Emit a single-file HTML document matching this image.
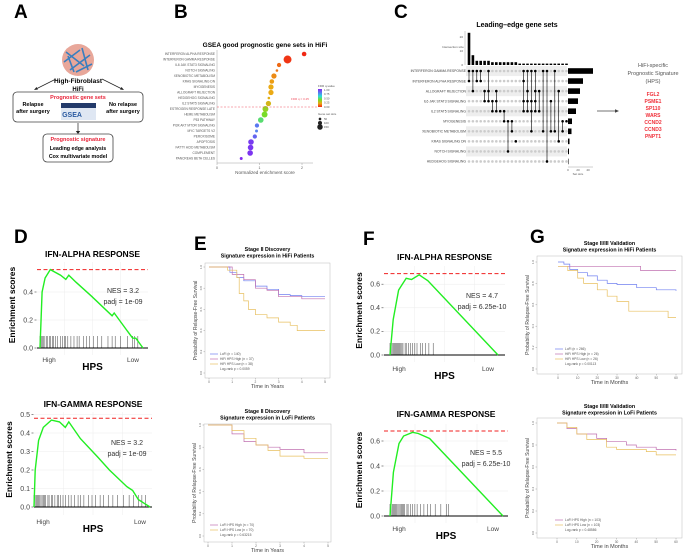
<!DOCTYPE html>
<html><head><meta charset="utf-8"><style>
html,body{margin:0;padding:0;background:#fff;}
svg{display:block;font-family:"Liberation Sans",sans-serif;}
</style></head><body>
<svg id="fig" width="689" height="554" viewBox="0 0 689 554" xmlns="http://www.w3.org/2000/svg">
<rect width="689" height="554" fill="#fff"/>
<g font-weight="bold" font-size="19" fill="#000">
<text x="14" y="18">A</text>
<text x="174" y="18">B</text>
<text x="394" y="18">C</text>
<text x="14" y="243">D</text>
<text x="194" y="250">E</text>
<text x="363" y="245">F</text>
<text x="530" y="243">G</text>
</g>
<g>
<circle cx="78" cy="60" r="16" fill="#e8a79a"/>
<g stroke="#3a7fbf" stroke-width="1.6">
<line x1="66" y1="52" x2="84" y2="66"/><line x1="70" y1="70" x2="90" y2="55"/><line x1="64" y1="62" x2="80" y2="50"/><line x1="76" y1="72" x2="92" y2="64"/><line x1="68" y1="56" x2="74" y2="72"/><line x1="82" y1="48" x2="88" y2="70"/>
</g>
<text x="78" y="83" font-size="6.5" font-weight="bold" text-anchor="middle">High-Fibroblast</text>
<text x="78" y="91" font-size="6" font-weight="bold" text-anchor="middle">HiFi</text>
<g stroke="#222" stroke-width="0.7" fill="none"><line x1="56" y1="79" x2="36" y2="89"/><line x1="102" y1="79" x2="122" y2="89"/><line x1="78" y1="123" x2="78" y2="132"/></g>
<g fill="#222"><path d="M34 90 l4 -0.5 l-1.5 -2.5z"/><path d="M124 90 l-4 -0.5 l1.5 -2.5z"/><path d="M75.8 131 h4.4 l-2.2 3z"/></g>
<rect x="13" y="92" width="130" height="30" rx="4" fill="none" stroke="#444" stroke-width="0.8"/>
<text x="78" y="99" font-size="5.5" font-weight="bold" fill="#e8253a" text-anchor="middle">Prognostic gene sets</text>
<text x="33" y="106" font-size="5.5" font-weight="bold" text-anchor="middle">Relapse</text>
<text x="33" y="113" font-size="5.5" font-weight="bold" text-anchor="middle">after surgery</text>
<text x="123" y="106" font-size="5.5" font-weight="bold" text-anchor="middle">No relapse</text>
<text x="123" y="113" font-size="5.5" font-weight="bold" text-anchor="middle">after surgery</text>
<rect x="61" y="103" width="35" height="5" fill="#223a6a"/>
<rect x="61" y="108" width="35" height="12" fill="#dfe7f3"/>
<text x="72" y="117" font-size="7" font-weight="bold" fill="#2a5aa0" text-anchor="middle">GSEA</text>
<rect x="43" y="134" width="70" height="28" rx="4" fill="none" stroke="#444" stroke-width="0.8"/>
<text x="78" y="141" font-size="5.5" font-weight="bold" fill="#e8253a" text-anchor="middle">Prognostic signature</text>
<text x="78" y="150" font-size="5.3" font-weight="bold" text-anchor="middle">Leading edge analysis</text>
<text x="78" y="158" font-size="5.3" font-weight="bold" text-anchor="middle">Cox multivariate model</text>
</g>
<g>
<line x1="597" y1="111" x2="615" y2="111" stroke="#444" stroke-width="0.8"/><path d="M619 111 l-4 -1.8 v3.6z" fill="#444"/>
<text x="653" y="67" font-size="5.5" fill="#555" text-anchor="middle">HiFi-specific</text>
<text x="653" y="75" font-size="5.5" fill="#555" text-anchor="middle">Prognostic Signature</text>
<text x="653" y="83" font-size="5.5" fill="#555" text-anchor="middle">(HPS)</text>
<g font-size="5" font-weight="bold" fill="#f0303a" text-anchor="middle">
<text x="653" y="96">FGL2</text><text x="653" y="103">PSME1</text><text x="653" y="110">SP110</text><text x="653" y="117">WARS</text><text x="653" y="124">CCND2</text><text x="653" y="131">CCND3</text><text x="653" y="138">PNPT1</text>
</g></g>
<g id="dyn"></g>
</svg>
<script>
const bTerms=["INTERFERON ALPHA RESPONSE","INTERFERON GAMMA RESPONSE","IL6 JAK STAT3 SIGNALING","NOTCH SIGNALING","XENOBIOTIC METABOLISM","KRAS SIGNALING DN","MYOGENESIS","ALLOGRAFT REJECTION","HEDGEHOG SIGNALING","IL2 STAT5 SIGNALING","ESTROGEN RESPONSE LATE","HEME METABOLISM","P53 PATHWAY","PI3K AKT MTOR SIGNALING","MYC TARGETS V2","PEROXISOME","APOPTOSIS","FATTY ACID METABOLISM","COMPLEMENT","PANCREAS BETA CELLES"];
const bNES=[2.05,1.66,1.46,1.41,1.34,1.29,1.27,1.27,1.22,1.21,1.14,1.12,1.03,0.94,0.93,0.89,0.8,0.79,0.78,0.57];
const bFDR=[0,0.02,0.1,0.12,0.15,0.18,0.2,0.2,0.22,0.24,0.35,0.4,0.48,0.8,0.78,0.85,0.95,0.96,0.97,1.0];
const bSize=[90,190,80,30,110,90,110,110,30,110,130,130,120,80,40,80,120,120,120,40];

const cRows=["INTERFERON GAMMA RESPONSE","INTERFERON ALPHA RESPONSE","ALLOGRAFT REJECTION","IL6 JAK STAT3 SIGNALING","IL2 STAT5 SIGNALING","MYOGENESIS","XENOBIOTIC METABOLISM","KRAS SIGNALING DN","NOTCH SIGNALING","HEDGEHOG SIGNALING"];
const cSetSize=[50,30,24,20,16,8,7,3,2,1];
const cInterSize=[23,7,3,3,3,3,2,2,2,2,2,2,2,1,1,1,1,1,1,1,1,1,1,1,1,1];
const cInterSets=[[0,1],[0,2],[0,1],[0,1],[2,3],[0,2,3],[3,4],[2,3,4],[4],[4,5],[5,8],[5,6],[7],[],[0,1,3,4],[0,2,3,4],[0,3,4,6],[0,2,3,4],[2,4],[0,6],[9,0],[3,6],[0,6],[2,7],[5,6],[5]];

const dAlphaX=[0,0.02,0.05,0.1,0.2,0.25,0.28,0.35,0.5,0.7,0.72,0.85,0.9,0.93,1.0];
const dAlphaY=[0,0.4,0.5,0.56,0.52,0.49,0.52,0.47,0.37,0.23,0.25,0.12,0.07,0.07,0.0];
const dAlphaHits=[0,0.01,0.02,0.03,0.04,0.06,0.07,0.09,0.1,0.12,0.13,0.15,0.17,0.2,0.22,0.24,0.25,0.27,0.3,0.33,0.36,0.38,0.42,0.45,0.48,0.52,0.56,0.6,0.66,0.7,0.73,0.78,0.85,0.9,0.92,0.95];
const dGammaX=[0,0.01,0.04,0.08,0.15,0.22,0.27,0.3,0.4,0.55,0.65,0.8,0.85,0.9,0.95,1.0];
const dGammaY=[0,0.2,0.36,0.43,0.47,0.46,0.43,0.46,0.37,0.27,0.2,0.11,0.09,0.04,0.02,0];
const dGammaHits=[0,0.01,0.02,0.03,0.04,0.05,0.06,0.07,0.08,0.09,0.1,0.12,0.13,0.15,0.16,0.18,0.2,0.21,0.23,0.25,0.27,0.3,0.32,0.35,0.38,0.4,0.43,0.47,0.5,0.53,0.57,0.6,0.64,0.68,0.72,0.77,0.82,0.86,0.9,0.93,0.96];
const fAlphaX=[0,0.03,0.08,0.1,0.15,0.2,0.27,0.3,0.35,1.0];
const fAlphaY=[0,0.3,0.55,0.58,0.65,0.64,0.68,0.66,0.63,0];
const fAlphaHits=[0,0.01,0.02,0.03,0.04,0.05,0.06,0.07,0.08,0.09,0.1,0.11,0.12,0.14,0.15,0.17,0.19,0.21,0.23,0.25,0.28,0.3,0.33,0.36,0.4];
const fGammaX=[0,0.03,0.08,0.12,0.2,0.25,0.35,1.0];
const fGammaY=[0,0.35,0.58,0.64,0.67,0.66,0.62,0];
const fGammaHits=[0,0.01,0.02,0.03,0.04,0.05,0.06,0.07,0.08,0.09,0.1,0.11,0.12,0.13,0.15,0.16,0.18,0.2,0.22,0.24,0.27,0.3,0.33,0.36,0.4,0.45,0.5,0.52];

const eTopLoT=[0,0.6,0.9,1.2,1.5,2,2.5,3,3.5,4,5], eTopLoS=[1,1,0.95,0.9,0.87,0.82,0.79,0.74,0.73,0.72,0.72];
const eTopHiT=[0,0.6,1,1.5,2,2.5,3,4,5], eTopHiS=[1,1,0.93,0.88,0.8,0.78,0.72,0.7,0.7];
const eTopLwT=[0,0.6,0.8,1.2,1.3,1.5,1.7,2,2.5,3,3.5,3.8,5], eTopLwS=[1,1,0.97,0.9,0.75,0.68,0.6,0.55,0.52,0.48,0.45,0.4,0.4];
const eBotHiT=[0,0.6,1,1.5,2,2.5,3,4,5], eBotHiS=[1,1,0.92,0.85,0.82,0.8,0.78,0.75,0.75];
const eBotLwT=[0,0.7,1,1.5,2,2.5,3,4,5], eBotLwS=[1,1,0.95,0.88,0.82,0.77,0.72,0.7,0.7];
const gTopLoT=[0,3,6,10,15,20,25,30,40,50,60], gTopLoS=[1,0.98,0.93,0.9,0.87,0.83,0.8,0.79,0.76,0.74,0.73];
const gTopHiT=[0,42,60], gTopHiS=[0.96,0.92,0.92];
const gTopLwT=[0,5,10,13,20,25,30,36,56,60], gTopLwS=[0.96,0.92,0.85,0.8,0.74,0.68,0.63,0.54,0.48,0.48];
const gBotHiT=[0,5,10,20,25,35,40,50,60], gBotHiS=[1,0.95,0.9,0.86,0.83,0.8,0.78,0.76,0.75];
const gBotLwT=[0,5,10,15,25,30,45,50,60], gBotLwS=[1,0.96,0.9,0.85,0.78,0.76,0.74,0.71,0.71];

const NS="http://www.w3.org/2000/svg";
const root=document.getElementById('dyn');
function mk(tag,attrs,name,parent){
  const el=document.createElementNS(NS,tag);
  for(const k in attrs) el.setAttribute(k,attrs[k]);
  
  
  (parent||root).appendChild(el);
  return el;
}
function txt(x,y,s,size,name,extra){
  const t=mk('text',Object.assign({x:x,y:y,'font-size':size},extra||{}),name);
  t.textContent=s;return t;
}
function fdrColor(v){
  const stops=[[0,[240,40,20]],[0.2,[235,170,20]],[0.4,[120,220,40]],[0.6,[40,220,220]],[0.8,[90,120,240]],[1,[130,40,240]]];
  for(let i=1;i<stops.length;i++){ if(v<=stops[i][0]){const a=stops[i-1],b=stops[i];const f=(v-a[0])/(b[0]-a[0]);const c=a[1].map((q,j)=>Math.round(q+(b[1][j]-q)*f));return `rgb(${c})`;} }
  return 'rgb(130,40,240)';
}

(function(){
  const x0=217,x1=313,yTop=54,step=5.5;
  const xs=v=>x0+v*42.5, ys=i=>yTop+i*step;
  txt(265,47,"GSEA good prognostic gene sets in HiFi",6.5,'panel-b-title',{'font-weight':'bold','text-anchor':'middle'});
  mk('line',{x1:x0,y1:50,x2:x0,y2:163,stroke:'#888','stroke-width':0.4},'b-y-axis');
  mk('line',{x1:x0,y1:163,x2:x1,y2:163,stroke:'#888','stroke-width':0.4},'b-x-axis');
  [0,1,2].forEach(v=>{mk('line',{x1:xs(v),y1:163,x2:xs(v),y2:165,stroke:'#888','stroke-width':0.4},'b-x-tick');txt(xs(v),169,String(v),3.5,'b-x-tick-label',{'text-anchor':'middle',fill:'#555'});});
  txt(265,174,"Normalized enrichment score",4.6,'b-x-axis-title',{'text-anchor':'middle',fill:'#555'});
  bTerms.forEach((t,i)=>{
    txt(215,ys(i)+1.2,t,3.2,'b-term-label',{'text-anchor':'end',fill:'#555'});
    mk('circle',{cx:xs(bNES[i]),cy:ys(i),r:0.8+bSize[i]/60,fill:fdrColor(bFDR[i])},'b-dot');
  });
  mk('line',{x1:x0,y1:107,x2:x1+4,y2:107,stroke:'#f05060','stroke-width':0.6,'stroke-dasharray':'2,1.5'},'b-fdr-threshold');
  txt(291,100,"FDR q = 0.25",3,'b-fdr-label',{fill:'#f05060'});
  txt(318,87,"FDR q-value",3,'b-legend-title',{fill:'#555'});
  const defs=mk('defs',{},'b-defs');const lg=mk('linearGradient',{id:'fdrg',x1:0,y1:1,x2:0,y2:0},'b-gradient',defs);
  [0,0.2,0.4,0.6,0.8,1].forEach(o=>mk('stop',{offset:o,'stop-color':fdrColor(o)},'b-grad-stop',lg));
  mk('rect',{x:318,y:89,width:4,height:18,fill:'url(#fdrg)'},'b-fdr-colorbar');
  ["1.00","0.75","0.50","0.25","0.00"].forEach((s,i)=>txt(324,91+i*4.2,s,2.8,'b-fdr-tick',{fill:'#555'}));
  txt(318,115,"Gene set size",3,'b-size-legend-title',{fill:'#555'});
  [50,100,150].forEach((s,i)=>{mk('circle',{cx:320,cy:119+i*4,r:0.6+s/70,fill:'#222'},'b-size-legend-dot');txt(324,120+i*4,String(s),2.8,'b-size-legend-label',{fill:'#555'});});
})();

(function(){
  const cx0=469,cstep=3.9,base=65,uy=1.4,ry0=71,rstep=10.05,sx0=568,sw=0.5;
  const cx=i=>cx0+i*cstep, ry=i=>ry0+i*rstep;
  txt(517,27,"Leading\u2013edge gene sets",7,'panel-c-title',{'font-weight':'bold','text-anchor':'middle'});
  mk('line',{x1:465,y1:base,x2:465,y2:31,stroke:'#888','stroke-width':0.4},'c-inter-axis');
  [0,10,20].forEach(v=>txt(463,base-v*uy+1,String(v),3,'c-inter-tick',{'text-anchor':'end',fill:'#555'}));
  txt(453,48,"Intersection size",3,'c-inter-axis-title',{'text-anchor':'middle',fill:'#555'});
  cRows.forEach((r,i)=>{
    if(i%2===0) mk('rect',{x:466,y:ry(i)-5,width:101,height:rstep,fill:'#eeeeee'},'c-row-band');
    txt(466,ry(i)+1.2,r,3.4,'c-row-label',{'text-anchor':'end',fill:'#444'});
    mk('rect',{x:sx0,y:ry(i)-2.8,width:cSetSize[i]*sw,height:5.6,fill:'#000'},'c-set-size-bar');
  });
  cInterSize.forEach((v,j)=>{
    mk('rect',{x:cx(j)-1.3,y:base-v*uy,width:2.6,height:v*uy,fill:'#000'},'c-intersection-bar');
    cRows.forEach((r,i)=>{const on=cInterSets[j].includes(i);mk('circle',{cx:cx(j),cy:ry(i),r:1.3,fill:on?'#000':'#cccccc'},on?'c-matrix-dot-active':'c-matrix-dot');});
    const s=cInterSets[j];if(s.length>1){mk('line',{x1:cx(j),y1:ry(Math.min(...s)),x2:cx(j),y2:ry(Math.max(...s)),stroke:'#000','stroke-width':0.6},'c-matrix-connector');}
  });
  mk('line',{x1:sx0,y1:167,x2:sx0+25,y2:167,stroke:'#888','stroke-width':0.4},'c-set-size-axis');
  [0,20,40].forEach(v=>txt(sx0+v*sw,171,String(v),3,'c-set-size-tick',{'text-anchor':'middle',fill:'#555'}));
  txt(578,175,"Set size",3,'c-set-size-title',{'text-anchor':'middle',fill:'#555'});
})();

function gsea(o){
  const xs=v=>o.xa+v*(o.xb-o.xa), ys=v=>o.y0-v*o.ky;
  txt((o.fl+o.fr)/2,o.ty,o.title,8.5,'gsea-title',{'font-weight':'bold','text-anchor':'middle'});
  o.grid.forEach(v=>mk('line',{x1:o.fl,y1:ys(v),x2:o.fr,y2:ys(v),stroke:'#ececec','stroke-width':0.5},'gsea-gridline'));
  [0.25,0.5,0.75].forEach(f=>mk('line',{x1:o.fl+(o.fr-o.fl)*f,y1:o.ft,x2:o.fl+(o.fr-o.fl)*f,y2:o.fb,stroke:'#ececec','stroke-width':0.5},'gsea-gridline-v'));
  o.ticks.forEach(v=>{txt(o.fl-4,ys(v)+2.3,o.fmt(v),7,'gsea-y-tick-label',{'text-anchor':'end',fill:'#444'});mk('line',{x1:o.fl-2.5,y1:ys(v),x2:o.fl-0.5,y2:ys(v),stroke:'#444','stroke-width':0.6},'gsea-y-tick');});
  mk('line',{x1:o.fl,y1:ys(o.red),x2:o.fr,y2:ys(o.red),stroke:'#f02020','stroke-width':1,'stroke-dasharray':'4,2.5'},'gsea-max-es-line');
  o.hits.forEach(h=>mk('line',{x1:xs(h),y1:o.y0,x2:xs(h),y2:o.y0-o.hh,stroke:'#000','stroke-width':0.5,'stroke-opacity':0.75},'gsea-hit-tick'));
  mk('line',{x1:o.fl,y1:o.y0,x2:o.fr,y2:o.y0,stroke:'#000','stroke-width':0.9},'gsea-zero-line');
  let d=o.X.map((x,i)=>(i?'L':'M')+xs(x).toFixed(1)+' '+ys(o.Y[i]).toFixed(1)).join(' ');
  mk('path',{d:d,fill:'none',stroke:'#22ee22','stroke-width':1.4},'gsea-running-es-curve');
  txt(o.nx,o.ny,"NES = "+o.nes,7,'gsea-nes-label',{'text-anchor':'middle',fill:'#333'});
  txt(o.nx,o.ny+11,"padj = "+o.padj,7,'gsea-padj-label',{'text-anchor':'middle',fill:'#333'});
  txt(o.xa+9,o.ly,"High",6.5,'gsea-x-high-label',{'text-anchor':'middle',fill:'#444'});
  txt(o.xb-10,o.ly,"Low",6.5,'gsea-x-low-label',{'text-anchor':'middle',fill:'#444'});
  txt((o.fl+o.fr)/2,o.ly+8,"HPS",10,'gsea-x-axis-title',{'font-weight':'bold','text-anchor':'middle'});
  txt(0,0,"Enrichment scores",8.5,'gsea-y-axis-title',{'font-weight':'bold','text-anchor':'middle',transform:`translate(${o.fl-22},${(o.ft+o.y0)/2}) rotate(-90)`});
}
gsea({title:"IFN-ALPHA RESPONSE",ty:257,fl:37,fr:148,ft:262,fb:355,xa:40,xb:143,y0:348,ky:140,grid:[0,0.2,0.4],ticks:[0,0.2,0.4],fmt:v=>v.toFixed(1),red:0.56,X:dAlphaX,Y:dAlphaY,hits:dAlphaHits,hh:12,nes:"3.2",padj:"1e-09",nx:123,ny:293,ly:362});
gsea({title:"IFN-GAMMA RESPONSE",ty:407,fl:34,fr:152,ft:412,fb:515,xa:34,xb:150,y0:507,ky:185,grid:[0,0.1,0.2,0.3,0.4,0.5],ticks:[0,0.1,0.2,0.3,0.4,0.5],fmt:v=>v.toFixed(1),red:0.48,X:dGammaX,Y:dGammaY,hits:dGammaHits,hh:12,nes:"3.2",padj:"1e-09",nx:127,ny:445,ly:524});
gsea({title:"IFN-ALPHA RESPONSE",ty:260,fl:384,fr:505,ft:266,fb:362,xa:390,xb:498,y0:355,ky:118,grid:[0,0.2,0.4,0.6],ticks:[0,0.2,0.4,0.6],fmt:v=>v.toFixed(1),red:0.69,X:fAlphaX,Y:fAlphaY,hits:fAlphaHits,hh:12,nes:"4.7",padj:"6.25e-10",nx:482,ny:298,ly:371});
gsea({title:"IFN-GAMMA RESPONSE",ty:417,fl:384,fr:508,ft:424,fb:523,xa:390,xb:503,y0:516,ky:125,grid:[0,0.2,0.4,0.6],ticks:[0,0.2,0.4,0.6],fmt:v=>v.toFixed(1),red:0.68,X:fGammaX,Y:fGammaY,hits:fGammaHits,hh:12,nes:"5.5",padj:"6.25e-10",nx:486,ny:455,ly:531});

function km(o){
  const xs=v=>o.x0+v*(o.x1-o.x0)/o.xmax, ys=v=>o.y0-v*(o.y0-o.y1);
  txt((o.fl+o.fr)/2,o.t1,o.title1,5.3,'km-title',{'font-weight':'bold','text-anchor':'middle'});
  txt((o.fl+o.fr)/2,o.t1+6.5,o.title2,5.3,'km-subtitle',{'font-weight':'bold','text-anchor':'middle'});
  mk('rect',{x:o.fl,y:o.ft,width:o.fr-o.fl,height:o.fb-o.ft,fill:'none',stroke:'#bbb','stroke-width':0.5},'km-frame');
  [0,0.2,0.4,0.6,0.8,1].forEach(v=>{mk('line',{x1:o.fl-1.5,y1:ys(v),x2:o.fl,y2:ys(v),stroke:'#888','stroke-width':0.4},'km-y-tick');txt(0,0,v.toFixed(1),3,'km-y-tick-label',{'text-anchor':'middle',fill:'#666',transform:`translate(${o.fl-3},${ys(v)}) rotate(-90)`});});
  o.xt.forEach(v=>{mk('line',{x1:xs(v),y1:o.fb,x2:xs(v),y2:o.fb+1.5,stroke:'#888','stroke-width':0.4},'km-x-tick');txt(xs(v),o.fb+5,String(v),3.2,'km-x-tick-label',{'text-anchor':'middle',fill:'#666'});});
  txt((o.fl+o.fr)/2,o.fb+10,o.xlab,5.5,'km-x-axis-title',{'text-anchor':'middle',fill:'#444'});
  txt(0,0,"Probability of Relapse-Free Survival",5,'km-y-axis-title',{'text-anchor':'middle',fill:'#444',transform:`translate(${o.fl-8},${(o.ft+o.fb)/2}) rotate(-90)`});
  o.series.forEach((s,k)=>{
    let d='M'+xs(s.T[0]).toFixed(1)+' '+ys(s.S[0]).toFixed(1);
    for(let i=1;i<s.T.length;i++){d+=' H'+xs(s.T[i]).toFixed(1)+' V'+ys(s.S[i]).toFixed(1);}
    mk('path',{d:d,fill:'none',stroke:s.c,'stroke-width':0.7},'km-curve-'+s.n);
    mk('line',{x1:o.lx,y1:o.ly+k*5,x2:o.lx+8,y2:o.ly+k*5,stroke:s.c,'stroke-width':0.7},'km-legend-swatch');
    txt(o.lx+10,o.ly+k*5+1.2,s.label,3.3,'km-legend-label',{fill:'#555'});
  });
  txt(o.lx+10,o.ly+o.series.length*5+1.2,o.pval,3.3,'km-logrank-label',{fill:'#555'});
}
const BL='#7080f0',PU='#c070b0',YE='#e8c060';
km({title1:"Stage II Discovery",title2:"Signature expression in HiFi Patients",t1:251,fl:205,fr:330,ft:263,fb:378,x0:209,x1:325,xmax:5,y0:373,y1:267,xt:[0,1,2,3,4,5],xlab:"Time in Years",lx:210,ly:354,pval:"Log-rank p = 0.0059",
 series:[{T:eTopLoT,S:eTopLoS,c:BL,n:'lofi',label:"LoFi (n = 140)"},{T:eTopHiT,S:eTopHiS,c:PU,n:'hifi-high',label:"HiFi HPS High (n = 37)"},{T:eTopLwT,S:eTopLwS,c:YE,n:'hifi-low',label:"HiFi HPS Low (n = 38)"}]});
km({title1:"Stage II Discovery",title2:"Signature expression in LoFi Patients",t1:413,fl:204,fr:331,ft:424,fb:542,x0:208,x1:328,xmax:5,y0:536,y1:425,xt:[0,1,2,3,4,5],xlab:"Time in Years",lx:210,ly:525,pval:"Log-rank p = 0.63215",
 series:[{T:eBotHiT,S:eBotHiS,c:PU,n:'lofi-high',label:"LoFi HPS High (n = 70)"},{T:eBotLwT,S:eBotLwS,c:YE,n:'lofi-low',label:"LoFi HPS Low (n = 70)"}]});
km({title1:"Stage II/III Validation",title2:"Signature expression in HiFi Patients",t1:245,fl:537,fr:682,ft:256,fb:374,x0:558,x1:676,xmax:60,y0:369,y1:262,xt:[0,10,20,30,40,50,60],xlab:"Time in Months",lx:555,ly:349,pval:"Log-rank p = 0.00113",
 series:[{T:gTopLoT,S:gTopLoS,c:BL,n:'lofi',label:"LoFi (n = 266)"},{T:gTopHiT,S:gTopHiS,c:PU,n:'hifi-high',label:"HiFi HPS High (n = 26)"},{T:gTopLwT,S:gTopLwS,c:YE,n:'hifi-low',label:"HiFi HPS Low (n = 26)"}]});
km({title1:"Stage II/III Validation",title2:"Signature expression in LoFi Patients",t1:408,fl:537,fr:682,ft:418,fb:538,x0:557,x1:676,xmax:60,y0:533,y1:423,xt:[0,10,20,30,40,50,60],xlab:"Time in Months",lx:555,ly:520,pval:"Log-rank p = 0.48586",
 series:[{T:gBotHiT,S:gBotHiS,c:PU,n:'lofi-high',label:"LoFi HPS High (n = 103)"},{T:gBotLwT,S:gBotLwS,c:YE,n:'lofi-low',label:"LoFi HPS Low (n = 103)"}]});
</script>
</body></html>
